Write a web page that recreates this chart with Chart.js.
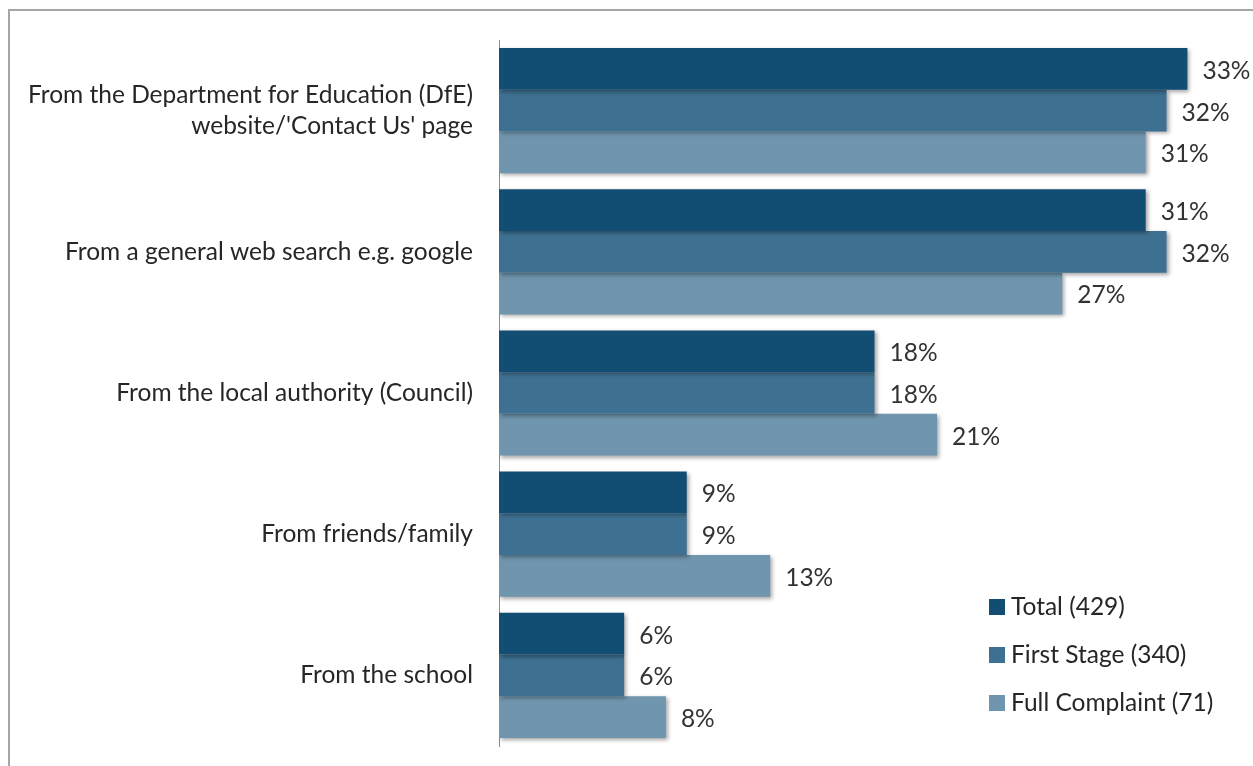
<!DOCTYPE html>
<html lang="en">
<head>
    <meta charset="UTF-8">
    <title>Where complainants found out how to complain</title>
    <script src="https://cdn.jsdelivr.net/npm/chart.js"></script>
    <style>
        html, body { margin: 0; padding: 0; background: #fff; }
        #wrap { position: relative; width: 1253px; height: 766px; }
    </style>
</head>
<body>
    <div id="wrap">
        <canvas id="sourceChart" width="1253" height="766"></canvas>
    </div>
    <script>
        // Categories and series values (percent)
        var categories = [
            ["From the Department for Education (DfE)", "website/'Contact Us' page"],
            "From a general web search e.g. google",
            "From the local authority (Council)",
            "From friends/family",
            "From the school"
        ];
        var seriesNames = ["Total (429)", "First Stage (340)", "Full Complaint (71)"];
        var totalValues = [33, 31, 18, 9, 6];
        var firstStageValues = [32, 32, 18, 9, 6];
        var fullComplaintValues = [31, 27, 21, 13, 8];
        var seriesColors = ["#124e73", "#3e7191", "#7095ae"];

        var fontFamily = "Lato, 'Open Sans', sans-serif";
        var fontSize = 24.5;

        // frame around the chart
        var framePlugin = {
            id: "frame",
            beforeDraw: function (chart) {
                var ctx = chart.ctx;
                ctx.save();
                ctx.strokeStyle = "#a6a6a6";
                ctx.lineWidth = 2;
                ctx.strokeRect(9, 10, 1260, 780);
                ctx.restore();
            }
        };

        // soft shadow under the bars, then value labels
        var barExtras = {
            id: "barExtras",
            beforeDatasetsDraw: function (chart) {
                var ctx = chart.ctx;
                ctx.save();
                ctx.shadowColor = "rgba(0,0,0,0.35)";
                ctx.shadowBlur = 4;
                ctx.shadowOffsetX = 2;
                ctx.shadowOffsetY = 2;
            },
            afterDatasetsDraw: function (chart) {
                var ctx = chart.ctx;
                ctx.restore();
                ctx.save();
                ctx.font = fontSize + "px " + fontFamily;
                ctx.fillStyle = "#333333";
                ctx.textAlign = "left";
                ctx.textBaseline = "middle";
                chart.data.datasets.forEach(function (ds, i) {
                    var meta = chart.getDatasetMeta(i);
                    meta.data.forEach(function (bar, j) {
                        ctx.fillText(ds.data[j] + "%", bar.x + 15, bar.y + 2);
                    });
                });
                ctx.restore();
            }
        };

        // legend box in the lower right corner
        var cornerLegend = {
            id: "cornerLegend",
            afterDraw: function (chart) {
                var ctx = chart.ctx;
                ctx.save();
                ctx.font = fontSize + "px " + fontFamily;
                ctx.textBaseline = "middle";
                chart.data.datasets.forEach(function (ds, i) {
                    var y = 607 + i * 48;
                    ctx.fillStyle = ds.backgroundColor;
                    ctx.fillRect(989, y - 8, 16, 16);
                    ctx.fillStyle = "#262626";
                    ctx.fillText(ds.label, 1011, y);
                });
                ctx.restore();
            }
        };

        var ctx = document.getElementById("sourceChart").getContext("2d");
        var sourceChart = new Chart(ctx, {
            type: "bar",
            data: {
                labels: categories,
                datasets: [
                    { label: seriesNames[0], data: totalValues, backgroundColor: seriesColors[0] },
                    { label: seriesNames[1], data: firstStageValues, backgroundColor: seriesColors[1] },
                    { label: seriesNames[2], data: fullComplaintValues, backgroundColor: seriesColors[2] }
                ]
            },
            options: {
                indexAxis: "y",
                responsive: false,
                animation: false,
                layout: { padding: { left: 0, top: 40, right: 3, bottom: 20 } },
                datasets: {
                    bar: { categoryPercentage: 0.887, barPercentage: 1.0 }
                },
                scales: {
                    x: {
                        display: false,
                        min: 0,
                        max: 36
                    },
                    y: {
                        afterFit: function (scale) {
                            scale.width = 499;
                            scale.paddingTop = 0;
                            scale.paddingBottom = 0;
                        },
                        grid: { display: false, drawTicks: false },
                        border: { display: true, color: "#8c8c8c", width: 1 },
                        ticks: {
                            padding: 26,
                            color: "#262626",
                            font: { family: fontFamily, size: fontSize, lineHeight: 1.3 }
                        }
                    }
                },
                plugins: {
                    legend: { display: false },
                    tooltip: { enabled: false }
                }
            },
            plugins: [framePlugin, barExtras, cornerLegend]
        });
    </script>
</body>
</html>
